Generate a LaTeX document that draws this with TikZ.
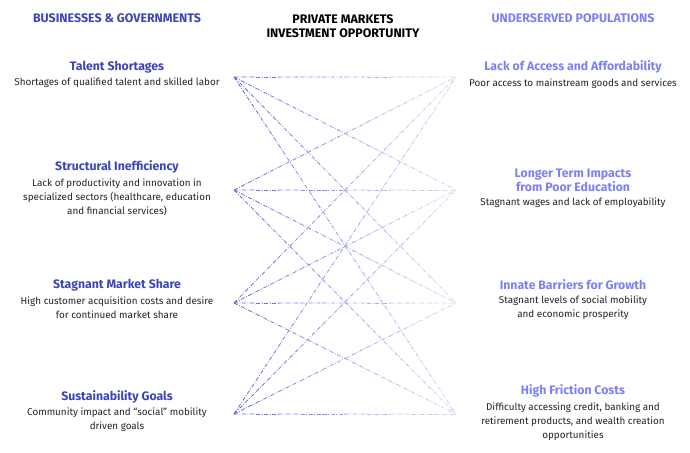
\documentclass[tikz,border=0pt]{standalone}
\usepackage{fontspec}
\setmainfont{Fira Sans}
\usepackage{tikz}
\usetikzlibrary{calc}
\definecolor{leftblue}{HTML}{3B45B5}
\definecolor{rightblue}{HTML}{7C80F2}
\definecolor{lineblue}{HTML}{4C56D8}
\definecolor{bodygray}{HTML}{222222}

\begin{document}
\begin{tikzpicture}[x=0.75pt,y=-0.75pt,
    head/.style={font=\fontsize{9.3}{10.5}\selectfont\bfseries, align=center, inner sep=0},
    ttl/.style={font=\fontsize{9.2}{10.5}\selectfont\bfseries, align=center, inner sep=0},
    desc/.style={font=\fontsize{7.4}{10.5}\selectfont, align=center, text=bodygray, inner sep=0},
    link/.style={line width=0.6pt, dash pattern=on 3pt off 1.2pt on 0.6pt off 1.2pt}]
  \useasboundingbox (0,0) rectangle (690,453);

  \node[head, text=leftblue] (hl) at (117,18) {BUSINESSES \& GOVERNMENTS};
  \node[head] (hc) at (343,26) {PRIVATE MARKETS\\INVESTMENT OPPORTUNITY};
  \node[head, text=rightblue] (hr) at (573,18) {UNDERSERVED POPULATIONS};

  \node[ttl, text=leftblue] (lt1) at (117,67) {Talent Shortages};
  \node[desc] (ld1) at (117,83) {Shortages of qualified talent and skilled labor};
  \node[ttl, text=leftblue] (lt2) at (117,167) {Structural Inefficiency};
  \node[desc] (ld2) at (117,197) {Lack of productivity and innovation in\\specialized sectors (healthcare, education\\and financial services)};
  \node[ttl, text=leftblue] (lt3) at (117,285) {Stagnant Market Share};
  \node[desc] (ld3) at (117,308) {High customer acquisition costs and desire\\for continued market share};
  \node[ttl, text=leftblue] (lt4) at (117,397) {Sustainability Goals};
  \node[desc] (ld4) at (117,420) {Community impact and ``social'' mobility\\driven goals};

  \node[ttl, text=rightblue] (rt1) at (573,67) {Lack of Access and Affordability};
  \node[desc] (rd1) at (573,84) {Poor access to mainstream goods and services};
  \node[ttl, text=rightblue] (rt2) at (573,180) {Longer Term Impacts\\from Poor Education};
  \node[desc] (rd2) at (573,203) {Stagnant wages and lack of employability};
  \node[ttl, text=rightblue] (rt3) at (573,285) {Innate Barriers for Growth};
  \node[desc] (rd3) at (573,308) {Stagnant levels of social mobility\\and economic prosperity};
  \node[ttl, text=rightblue] (rt4) at (573,391) {High Friction Costs};
  \node[desc] (rd4) at (573,422) {Difficulty accessing credit, banking and\\retirement products, and wealth creation\\opportunities};

  \coordinate (l1) at (234,77);  \coordinate (r1) at (456,77);
  \coordinate (l2) at (234,190); \coordinate (r2) at (456,190);
  \coordinate (l3) at (234,303); \coordinate (r3) at (456,303);
  \coordinate (l4) at (234,414); \coordinate (r4) at (456,414);

  \foreach \i in {1,...,4}{
    \foreach \j in {1,...,4}{
      \foreach \k in {0,...,9}{
        \pgfmathtruncatemacro{\shade}{88-7*\k}
        \pgfmathsetmacro{\ta}{\k/10}
        \pgfmathsetmacro{\tb}{(\k+1)/10}
        \draw[link, draw=lineblue!\shade] ($(l\i)!\ta!(r\j)$) -- ($(l\i)!\tb!(r\j)$);
      }
    }
  }
\end{tikzpicture}
\end{document}
